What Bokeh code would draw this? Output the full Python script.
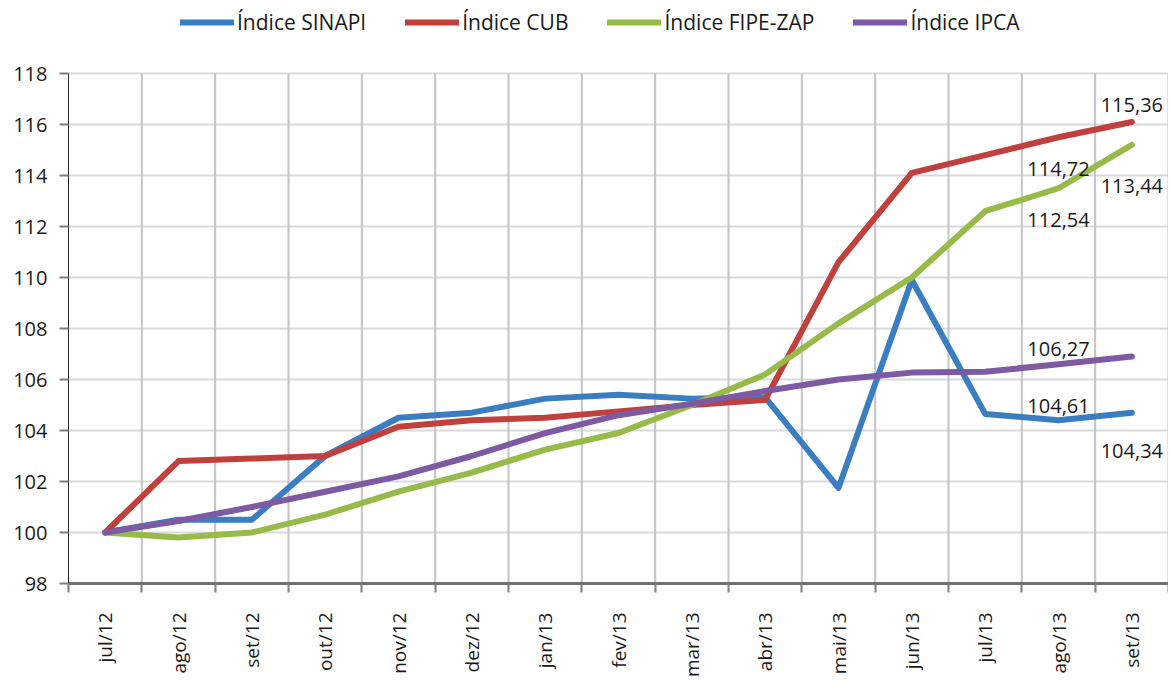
import math
from bokeh.plotting import figure
from bokeh.models import Range1d, FixedTicker, Legend, LegendItem, ColumnDataSource
from bokeh.core.properties import value
from bokeh.embed import file_html
from bokeh.resources import INLINE

months = ["jul/12", "ago/12", "set/12", "out/12", "nov/12", "dez/12", "jan/13",
          "fev/13", "mar/13", "abr/13", "mai/13", "jun/13", "jul/13", "ago/13", "set/13"]
sinapi = [100, 100.5, 100.5, 103.0, 104.5, 104.7, 105.25, 105.4, 105.25, 105.3,
          101.75, 109.9, 104.65, 104.4, 104.7]
cub = [100, 102.8, 102.9, 103.0, 104.15, 104.4, 104.5, 104.75, 105.0, 105.2,
       110.6, 114.1, 114.8, 115.5, 116.1]
fipe = [100, 99.8, 100.0, 100.7, 101.6, 102.35, 103.25, 103.9, 105.0, 106.2,
        108.2, 110.0, 112.6, 113.5, 115.2]
ipca = [100, 100.45, 101.0, 101.6, 102.2, 103.0, 103.9, 104.6, 105.05, 105.55,
        106.0, 106.27, 106.3, 106.6, 106.9]
series_names = ["Índice SINAPI", "Índice CUB", "Índice FIPE-ZAP", "Índice IPCA"]

label_texts = ["115,36", "114,72", "113,44", "112,54", "106,27", "104,61", "104,34"]
label_month = ["set/13", "ago/13", "set/13", "ago/13", "ago/13", "ago/13", "set/13"]
label_y = [116.75, 114.27, 113.6, 112.24, 107.18, 104.98, 103.2]

y_ticks = list(range(98, 119, 2))

FONT = "Open Sans"
colors = ["#3B7DC1", "#C0403D", "#97BA48", "#7D5AA1"]

n = len(months)
xs = [i + 0.5 for i in range(n)]
pos = {m: i + 0.5 for i, m in enumerate(months)}
bounds_x = list(range(n + 1))

# plot area: 510 px for the 98..118 span, plus headroom above for the legend
px_per_unit = 510 / (y_ticks[-1] - y_ticks[0])
y_top = y_ticks[-1] + 73 / px_per_unit

p = figure(frame_width=1100, frame_height=583,
           x_range=Range1d(0, n), y_range=Range1d(y_ticks[0], y_top),
           output_backend="svg", toolbar_location=None,
           min_border_left=68, min_border_top=0, min_border_right=0,
           min_border_bottom=0, outline_line_color=None)

# grids
p.ygrid.ticker = FixedTicker(ticks=y_ticks)
p.ygrid.grid_line_color = "#D9D9D9"
p.ygrid.grid_line_width = 2
p.xgrid.visible = False
p.segment(x0=bounds_x[1:], y0=[y_ticks[0]] * n, x1=bounds_x[1:], y1=[y_ticks[-1]] * n,
          line_color="#C3C3C8", line_width=2)

# x axis
p.xaxis.ticker = FixedTicker(ticks=xs, minor_ticks=bounds_x)
p.xaxis.major_label_overrides = {x: m for x, m in zip(xs, months)}
p.xaxis.major_label_orientation = math.pi / 2
p.xaxis.major_tick_line_color = None
p.xaxis.major_tick_out = 9
p.xaxis.major_tick_in = 0
p.xaxis.minor_tick_out = 9
p.xaxis.minor_tick_in = 0
p.xaxis.minor_tick_line_color = "#7F7F7F"
p.xaxis.minor_tick_line_width = 2
p.xaxis.axis_line_color = "#6F6F6F"
p.xaxis.axis_line_width = 3
p.xaxis.major_label_standoff = 20
p.xaxis.major_label_text_font = FONT
p.xaxis.major_label_text_font_size = "19px"
p.xaxis.major_label_text_color = "#1A1A1A"

# y axis
p.yaxis.ticker = FixedTicker(ticks=y_ticks)
p.yaxis.bounds = (y_ticks[0], y_ticks[-1])
p.yaxis.major_tick_out = 9
p.yaxis.major_tick_in = 0
p.yaxis.minor_tick_line_color = None
p.yaxis.major_tick_line_color = "#7F7F7F"
p.yaxis.major_tick_line_width = 2
p.yaxis.axis_line_color = "#262626"
p.yaxis.axis_line_width = 1
p.yaxis.major_label_standoff = 12
p.yaxis.major_label_text_font = FONT
p.yaxis.major_label_text_font_size = "20px"
p.yaxis.major_label_text_color = "#1A1A1A"

renderers = []
for vals, c in zip([sinapi, cub, fipe, ipca], colors):
    r = p.line(xs, vals, line_color=c, line_width=6, line_join="round", line_cap="round")
    renderers.append(r)

src = ColumnDataSource(dict(x=[pos[m] for m in label_month], y=label_y, t=label_texts))
p.text(x="x", y="y", text="t", source=src, text_align="center", text_baseline="middle",
       text_font=value(FONT), text_font_size="20px", text_color="#1A1A1A")

legend = Legend(items=[LegendItem(label=nm, renderers=[r]) for nm, r in zip(series_names, renderers)],
                location=(112, 547), orientation="horizontal", spacing=39,
                glyph_width=54, glyph_height=20, label_standoff=3, padding=0, margin=0,
                border_line_color=None, background_fill_alpha=0,
                label_text_font=FONT, label_text_font_size="21px", label_text_color="#1A1A1A")
p.add_layout(legend)

open("out.html", "w").write(file_html(p, INLINE))
